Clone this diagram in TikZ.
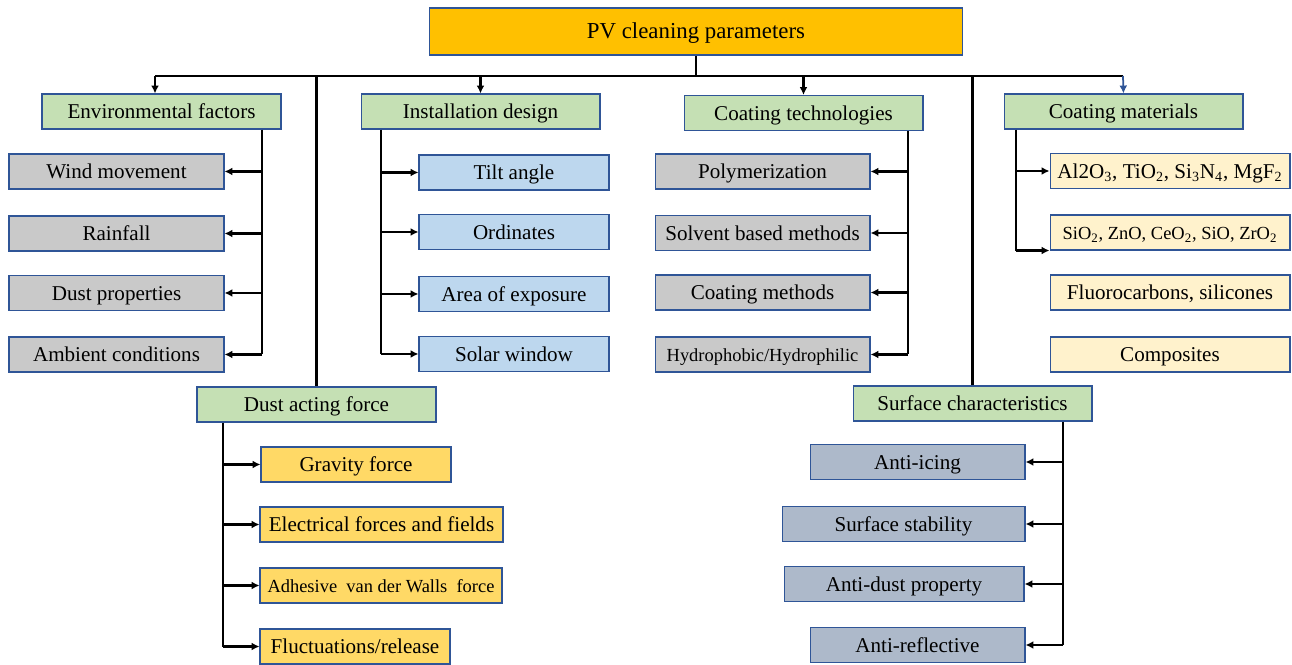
\documentclass[tikz,border=0pt]{standalone}
\usepackage{fontspec}
\setmainfont{Liberation Serif}
\usepackage{tikz}
\usetikzlibrary{arrows.meta,positioning}
\definecolor{Oro}{HTML}{FFC000}
\definecolor{Verde}{HTML}{C5E0B4}
\definecolor{Gris}{HTML}{C9C9C9}
\definecolor{Celeste}{HTML}{BDD7EE}
\definecolor{Amarillo}{HTML}{FFD966}
\definecolor{Crema}{HTML}{FFF2CC}
\definecolor{Pizarra}{HTML}{ADB9CA}
\definecolor{Borde}{HTML}{2F5597}

\begin{document}
\begin{tikzpicture}[x=0.02cm,y=-0.02cm,font=\fontsize{12}{14}\selectfont,>=Latex,
  caja/.style={draw=Borde,line width=0.6pt,inner sep=0pt,minimum height=0.7cm,
    text height=10.4pt,text depth=2pt,text=black},
  verde/.style={caja,fill=Verde,minimum width=4.78cm},
  tronco/.style={line width=1.4pt,black},
  flecha/.style={tronco,-{Latex[length=4.5pt,width=4.5pt]}}]
  \useasboundingbox (0,0) rectangle (1292,665);
  % raiz y barra
  \node[caja,fill=Oro,minimum width=10.68cm,minimum height=0.94cm,
    font=\fontsize{13}{15}\selectfont] (pv) at (696,31.5) {PV cleaning parameters};
  \coordinate (busL) at (155,76);
  \coordinate (busR) at (1123,76);
  % grupos
  \node[verde] (env) at (161.5,111.5) {Environmental factors};
  \node[verde] (inst) at (480.5,111.5) {Installation design};
  \node[verde] (ctec) at (803.5,113) {Coating technologies};
  \node[verde] (cmat) at (1123.5,111.5) {Coating materials};
  \node[verde] (dust) at (316.5,404.5) {Dust acting force};
  \node[verde] (surf) at (972.5,403.5) {Surface characteristics};
  \draw[tronco] (pv.south) -- (pv.south |- busL);
  \draw[tronco] (busL) -- (busR);
  \draw[flecha] (busL) -- (busL |- env.north);
  \draw[flecha] (inst.north |- busL) -- (inst.north);
  \draw[flecha] (ctec.north |- busL) -- (ctec.north);
  \draw[flecha,Borde,line width=1pt] (busR) -- (cmat.north);
  \draw[tronco] (dust.north |- busL) -- (dust.north);
  \draw[tronco] (surf.north |- busL) -- (surf.north);
  % Environmental factors
  \foreach \nom/\y/\lab in {wind/171.5/Wind movement,rain/233.5/Rainfall,
      dprop/293/Dust properties,amb/354.5/Ambient conditions}{
    \node[caja,fill=Gris,minimum width=4.3cm] (\nom) at (116.5,\y) {\lab};
  }
  \coordinate (tEnv) at (262,0);
  \draw[tronco] (tEnv |- env.south) -- (tEnv |- amb.east);
  \foreach \nom in {wind,rain,dprop,amb}
    \draw[flecha] (tEnv |- \nom.east) -- (\nom.east);
  % Installation design
  \foreach \nom/\y/\lab in {tilt/172.5/Tilt angle,ordi/232/Ordinates,
      area/294/Area of exposure,solar/354/Solar window}{
    \node[caja,fill=Celeste,minimum width=3.8cm] (\nom) at (514,\y) {\lab};
  }
  \coordinate (tInst) at (381,0);
  \draw[tronco] (tInst |- inst.south) -- (tInst |- solar.west);
  \foreach \nom in {tilt,ordi,area,solar}
    \draw[flecha] (tInst |- \nom.west) -- (\nom.west);
  % Coating technologies
  \foreach \nom/\y/\lab in {poly/171.5/Polymerization,solv/233/Solvent based methods,
      cmeth/292.5/Coating methods,
      hydro/354.5/{\fontsize{10.5}{12}\selectfont Hydrophobic/Hydrophilic}}{
    \node[caja,fill=Gris,minimum width=4.3cm] (\nom) at (762.5,\y) {\lab};
  }
  \coordinate (tTec) at (908,0);
  \draw[tronco] (tTec |- ctec.south) -- (tTec |- hydro.east);
  \foreach \nom in {poly,solv,cmeth,hydro}
    \draw[flecha] (tTec |- \nom.east) -- (\nom.east);
  % Coating materials
  \foreach \nom/\y/\lab in {
      oxa/171/{Al2O\textsubscript{3}, TiO\textsubscript{2}, Si\textsubscript{3}N\textsubscript{4}, MgF\textsubscript{2}},
      oxb/232.5/{\fontsize{10.5}{12}\selectfont SiO\textsubscript{2}, ZnO, CeO\textsubscript{2}, SiO, ZrO\textsubscript{2}},
      fluo/292.5/{Fluorocarbons, silicones},
      comp/354.5/Composites}{
    \node[caja,fill=Crema,minimum width=4.8cm] (\nom) at (1170,\y) {\lab};
  }
  \coordinate (tMat) at (1016,0);
  \draw[tronco] (tMat |- cmat.south) -- (tMat |- oxb.south west);
  \draw[flecha] (tMat |- oxa.west) -- (oxa.west);
  \draw[flecha] (tMat |- oxb.south west) -- (oxb.south west);
  % Dust acting force
  \node[caja,fill=Amarillo,minimum width=3.8cm] (grav) at (356,464.5) {Gravity force};
  \node[caja,fill=Amarillo,minimum width=4.86cm] (elec) at (381.5,524.5)
    {Electrical forces and fields};
  \node[caja,fill=Amarillo,minimum width=4.84cm] (adh) at (381,585.5)
    {\fontsize{10.5}{12}\selectfont Adhesive\ \ van der Walls\ \ force};
  \node[caja,fill=Amarillo,minimum width=3.8cm] (fluct) at (355,646.5)
    {Fluctuations/release};
  \coordinate (tDust) at (223,0);
  \draw[tronco] (tDust |- dust.south) -- (tDust |- fluct.west);
  \foreach \nom in {grav,elec,adh,fluct}
    \draw[flecha] (tDust |- \nom.west) -- (\nom.west);
  % Surface characteristics
  \node[caja,fill=Pizarra,minimum width=4.3cm] (ice) at (917.5,462) {Anti-icing};
  \node[caja,fill=Pizarra,minimum width=4.86cm] (stab) at (903.5,524) {Surface stability};
  \node[caja,fill=Pizarra,minimum width=4.8cm] (adust) at (904,584) {Anti-dust property};
  \node[caja,fill=Pizarra,minimum width=4.3cm] (arefl) at (917.5,645) {Anti-reflective};
  \coordinate (tSurf) at (1063,0);
  \draw[tronco] (tSurf |- surf.south) -- (tSurf |- arefl.east);
  \foreach \nom in {ice,stab,adust,arefl}
    \draw[flecha] (tSurf |- \nom.east) -- (\nom.east);
\end{tikzpicture}
\end{document}
